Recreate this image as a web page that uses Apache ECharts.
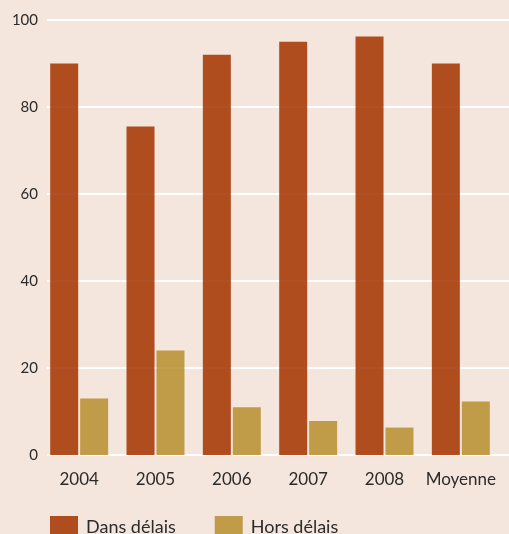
<!DOCTYPE html>
<html><head><meta charset="utf-8">
<script src="https://cdn.jsdelivr.net/npm/echarts@6/dist/echarts.min.js"></script>
<style>html,body{margin:0;padding:0;background:#f4e6dc}#c{width:509px;height:534px}</style>
</head><body><div id="c"></div>
<script>
var categories = ['2004','2005','2006','2007','2008','Moyenne'];
var dansDelais = [90, 75.5, 92, 95, 96.2, 90];
var horsDelais = [13, 24, 11, 7.8, 6.3, 12.3];
var yTicks = [0, 20, 40, 60, 80, 100];

var font = 'Lato, "Open Sans", sans-serif';
var chart = echarts.init(document.getElementById('c'));
chart.setOption({
  backgroundColor: '#f4e6dc',
  animation: false,
  textStyle: {fontFamily: font},
  grid: [
    {left: 47, right: 0, top: 20, bottom: 79},
    {left: 41, width: 458, top: 20, bottom: 79}
  ],
  xAxis: [
    {gridIndex: 0, type: 'value', show: false, min: 0, max: 1},
    {gridIndex: 1, type: 'category', data: categories,
     axisLine: {show: false}, axisTick: {show: false},
     axisLabel: {color: '#2b2b2b', fontSize: 17, margin: 16, interval: 0, fontFamily: font}}
  ],
  yAxis: [
    {gridIndex: 0, type: 'value', min: yTicks[0], max: yTicks[yTicks.length-1], interval: 20,
     axisLine: {show: false}, axisTick: {show: false},
     axisLabel: {color: '#2b2b2b', fontSize: 15, margin: 9, fontFamily: font},
     splitLine: {lineStyle: {color: '#ffffff', width: 2}}},
    {gridIndex: 1, type: 'value', min: 0, max: 100, show: false, splitLine: {show: false}}
  ],
  legend: {
    left: 45, top: 511, itemWidth: 28, itemHeight: 22, itemGap: 39,
    icon: 'rect',
    textStyle: {color: '#2b2b2b', fontSize: 18, fontFamily: font, padding: [0,0,0,3]},
    data: ['Dans délais', 'Hors délais']
  },
  series: [
    {name: 'Dans délais', type: 'bar', xAxisIndex: 1, yAxisIndex: 1, data: dansDelais,
     barWidth: 28, barGap: '7%', z: 2,
     itemStyle: {color: 'rgb(164,51,0)', opacity: 0.86}},
    {name: 'Hors délais', type: 'bar', xAxisIndex: 1, yAxisIndex: 1, data: horsDelais,
     barWidth: 28, barGap: '7%', z: 2,
     itemStyle: {color: 'rgb(184,143,48)', opacity: 0.86}}
  ]
});
</script></body></html>
